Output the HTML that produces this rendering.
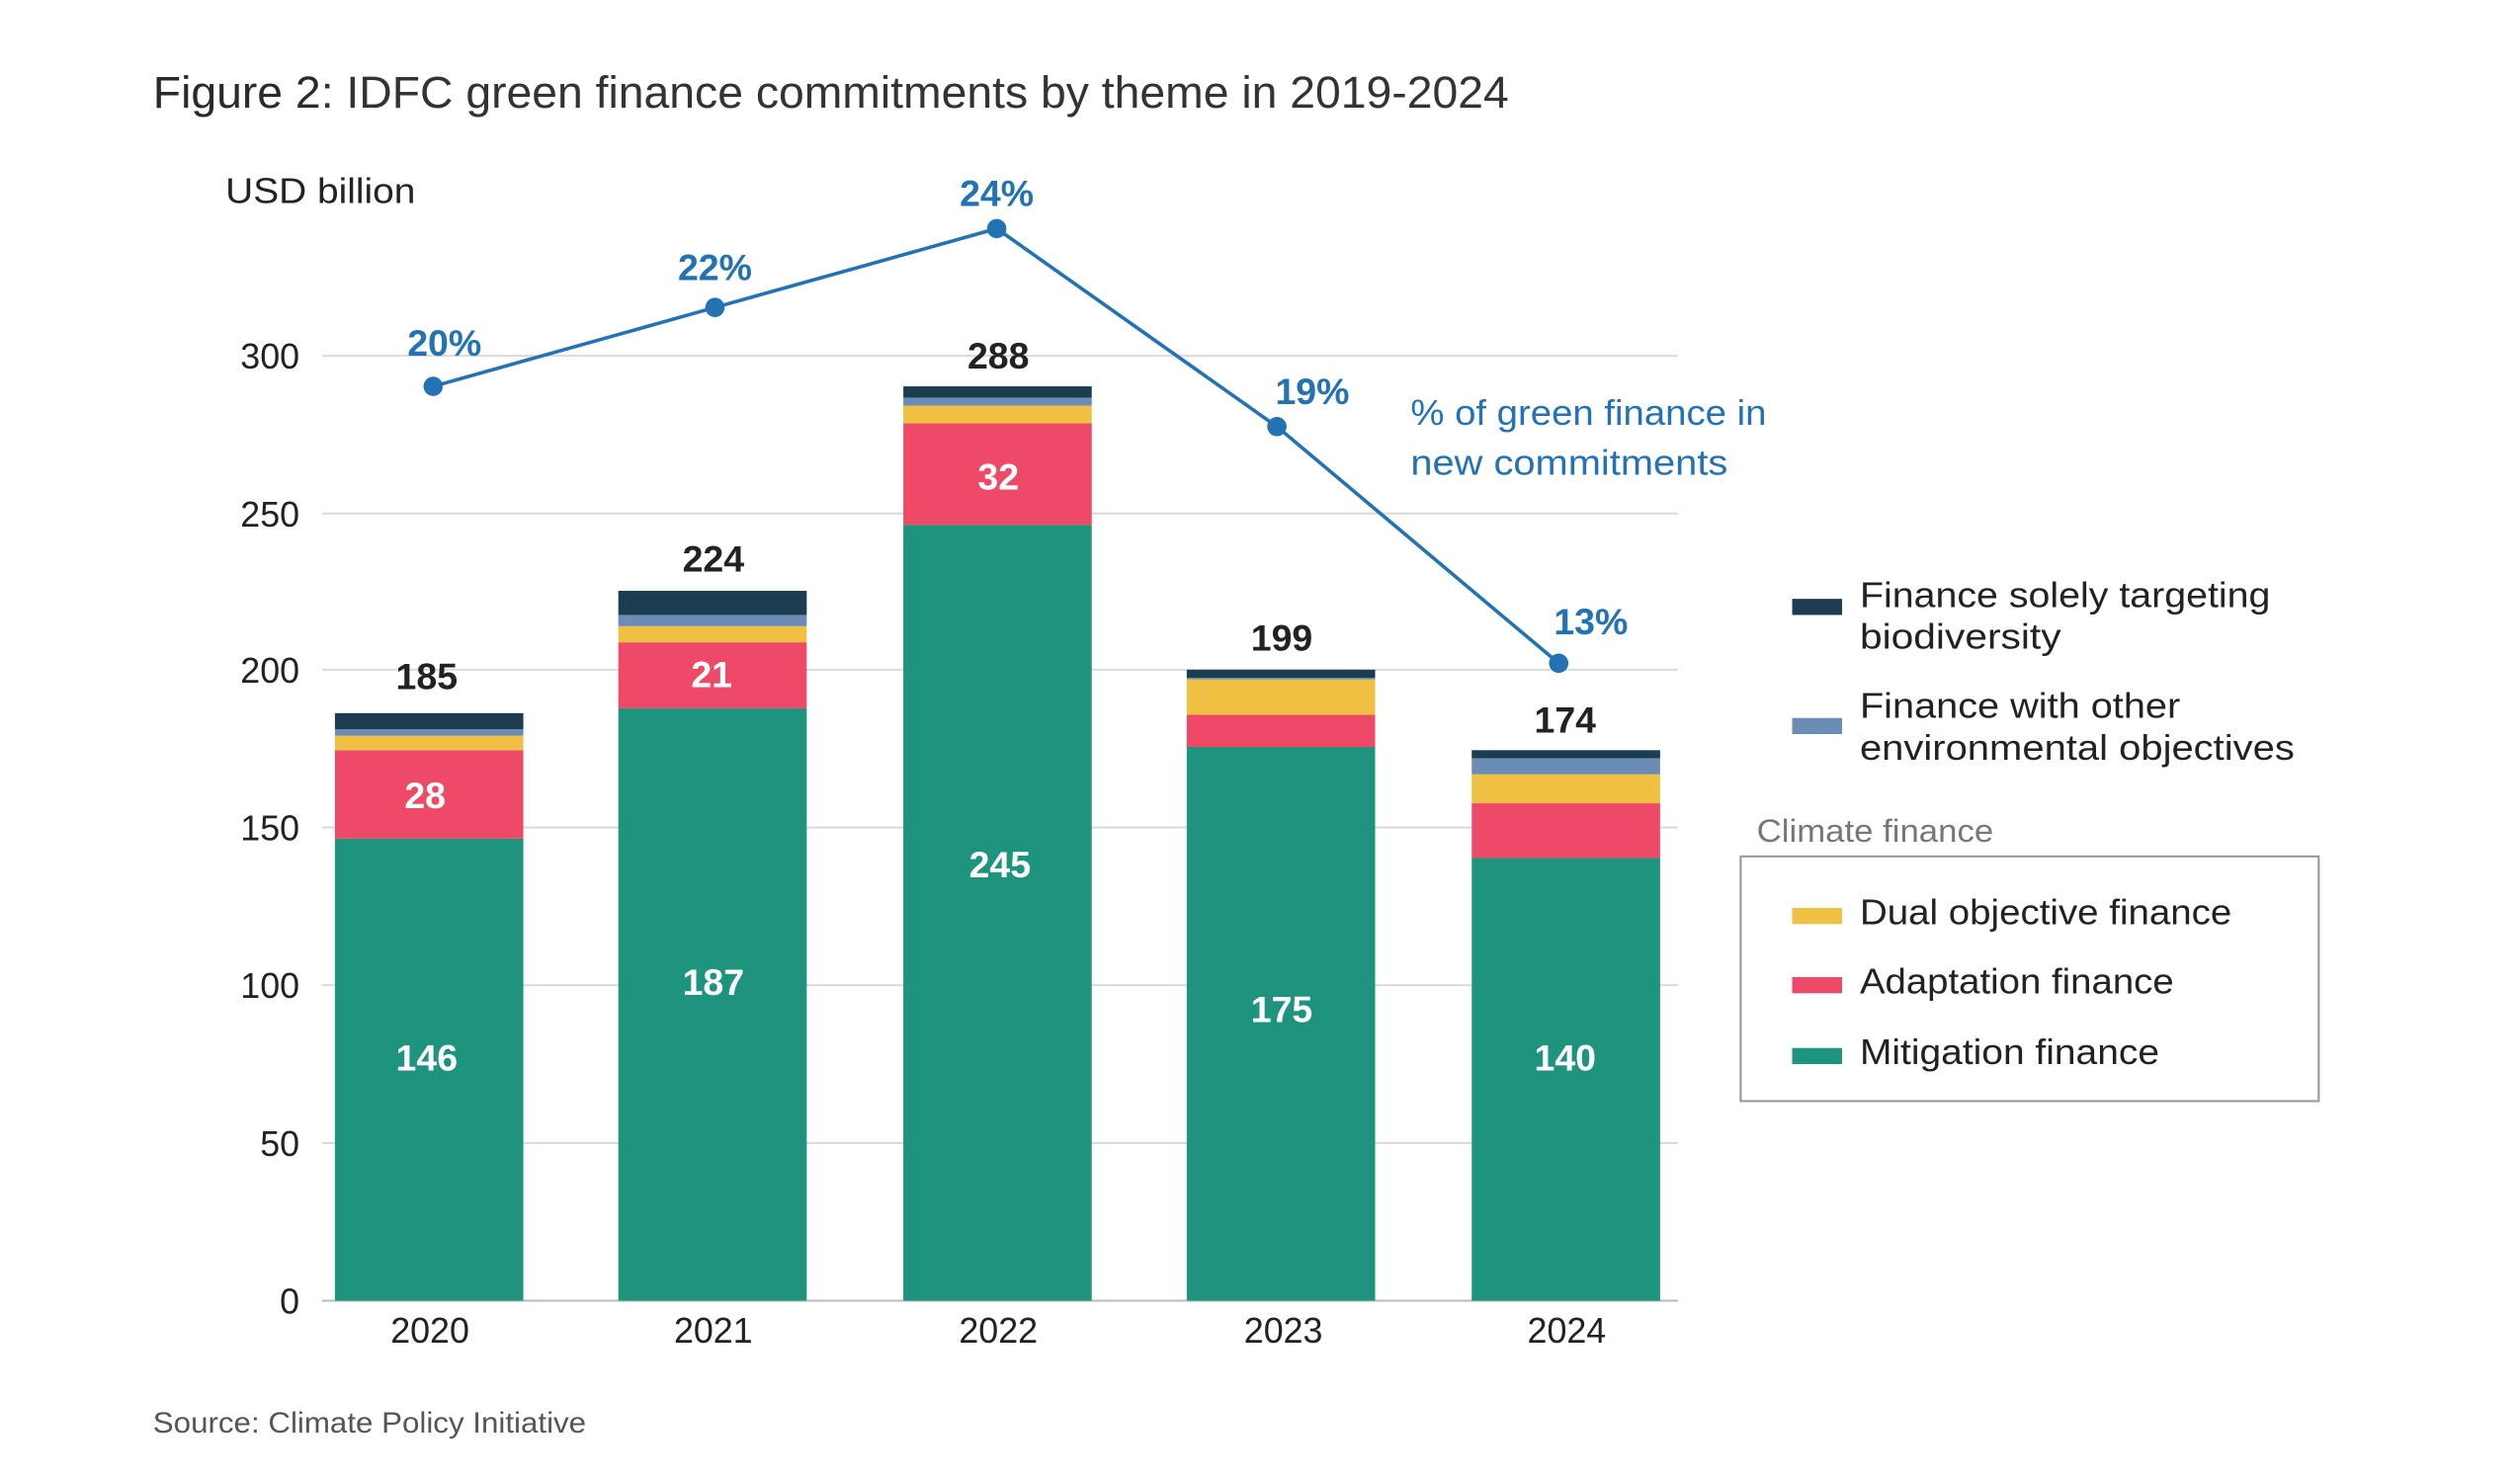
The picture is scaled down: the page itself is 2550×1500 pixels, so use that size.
<!DOCTYPE html>
<html><head><meta charset="utf-8"><style>
html,body{margin:0;padding:0;background:#fff;}
svg{display:block;}
text{font-family:"Liberation Sans Narrow","Liberation Sans",sans-serif;}
</style></head><body>
<svg width="2550" height="1500" viewBox="0 0 1565 920.6" xmlns="http://www.w3.org/2000/svg">
<rect width="1565" height="921" fill="#fff"/>
<text x="95" y="67" font-size="28" fill="#333" textLength="842" lengthAdjust="spacingAndGlyphs"><tspan fill="#2a2a2a">Figure 2</tspan>: IDFC green finance commitments by theme in 2019-2024</text>
<text x="140" y="126" font-size="22" fill="#222" textLength="118" lengthAdjust="spacingAndGlyphs">USD billion</text>
<g stroke="#d9d9d9" stroke-width="1.2">
<line x1="200" x2="1042" y1="221" y2="221"/><line x1="200" x2="1042" y1="319" y2="319"/><line x1="200" x2="1042" y1="416" y2="416"/><line x1="200" x2="1042" y1="514" y2="514"/><line x1="200" x2="1042" y1="612" y2="612"/><line x1="200" x2="1042" y1="710" y2="710"/>
</g>
<line x1="200" x2="1042" y1="808" y2="808" stroke="#bbb" stroke-width="1.2"/>
<g font-size="22" fill="#222" text-anchor="end">
<text x="186" y="229">300</text><text x="186" y="327">250</text><text x="186" y="424">200</text><text x="186" y="522">150</text><text x="186" y="620">100</text><text x="186" y="718">50</text><text x="186" y="816">0</text>
</g>
<g>
<rect x="208" y="521" width="117" height="287" fill="#1e937e"/><rect x="208" y="466" width="117" height="55" fill="#ee4a68"/><rect x="208" y="457" width="117" height="9" fill="#f0c043"/><rect x="208" y="453" width="117" height="4" fill="#6b8db5"/><rect x="208" y="443" width="117" height="10" fill="#1b3d4f"/>
<rect x="384" y="440" width="117" height="368" fill="#1e937e"/><rect x="384" y="399" width="117" height="41" fill="#ee4a68"/><rect x="384" y="389" width="117" height="10" fill="#f0c043"/><rect x="384" y="382" width="117" height="7" fill="#6b8db5"/><rect x="384" y="367" width="117" height="15" fill="#1b3d4f"/>
<rect x="561" y="326" width="117" height="482" fill="#1e937e"/><rect x="561" y="263" width="117" height="63" fill="#ee4a68"/><rect x="561" y="252" width="117" height="11" fill="#f0c043"/><rect x="561" y="247" width="117" height="5" fill="#6b8db5"/><rect x="561" y="240" width="117" height="7" fill="#1b3d4f"/>
<rect x="737" y="464" width="117" height="344" fill="#1e937e"/><rect x="737" y="444" width="117" height="20" fill="#ee4a68"/><rect x="737" y="422" width="117" height="22" fill="#f0c043"/><rect x="737" y="421" width="117" height="1" fill="#6b8db5"/><rect x="737" y="416" width="117" height="5" fill="#1b3d4f"/>
<rect x="914" y="533" width="117" height="275" fill="#1e937e"/><rect x="914" y="499" width="117" height="34" fill="#ee4a68"/><rect x="914" y="481" width="117" height="18" fill="#f0c043"/><rect x="914" y="471" width="117" height="10" fill="#6b8db5"/><rect x="914" y="466" width="117" height="5" fill="#1b3d4f"/>
</g>
<g font-size="23" font-weight="bold" fill="#fff" text-anchor="middle">
<text x="264" y="502">28</text><text x="265" y="665">146</text><text x="442" y="427">21</text><text x="443" y="618">187</text><text x="620" y="304">32</text><text x="621" y="545">245</text><text x="796" y="635">175</text><text x="972" y="665">140</text>
</g>
<g font-size="23" font-weight="bold" fill="#222" text-anchor="middle">
<text x="265" y="428">185</text><text x="443" y="355">224</text><text x="620" y="229">288</text><text x="796" y="404">199</text><text x="972" y="455">174</text>
</g>
<g font-size="22" fill="#222" text-anchor="middle">
<text x="267" y="834">2020</text><text x="443" y="834">2021</text><text x="620" y="834">2022</text><text x="797" y="834">2023</text><text x="973" y="834">2024</text>
</g>
<polyline points="269,240 444,191 619,142 793,265 968,412" fill="none" stroke="#2272b4" stroke-width="2.2"/>
<g fill="#2272b4"><circle cx="269" cy="240" r="6"/><circle cx="444" cy="191" r="6"/><circle cx="619" cy="142" r="6"/><circle cx="793" cy="265" r="6"/><circle cx="968" cy="412" r="6"/></g>
<g font-size="23" font-weight="bold" fill="#2272b4" text-anchor="middle">
<text x="276" y="221">20%</text><text x="444" y="174">22%</text><text x="619" y="128">24%</text><text x="815" y="251">19%</text><text x="988" y="394">13%</text>
</g>
<g font-size="22" fill="#2272b4"><text x="876" y="264" textLength="221" lengthAdjust="spacingAndGlyphs">% of green finance in</text><text x="876" y="295" textLength="197" lengthAdjust="spacingAndGlyphs">new commitments</text></g>
<rect x="1113" y="372" width="31" height="10" fill="#1b3d4f"/>
<rect x="1113" y="446" width="31" height="10" fill="#6b8db5"/>
<g font-size="22" fill="#222" lengthAdjust="spacingAndGlyphs">
<text x="1155" y="377" textLength="255" lengthAdjust="spacingAndGlyphs">Finance solely targeting</text><text x="1155" y="403" textLength="125" lengthAdjust="spacingAndGlyphs">biodiversity</text>
<text x="1155" y="446" textLength="199" lengthAdjust="spacingAndGlyphs">Finance with other</text><text x="1155" y="472" textLength="270" lengthAdjust="spacingAndGlyphs">environmental objectives</text>
</g>
<text x="1091" y="523" font-size="20" fill="#777" textLength="147" lengthAdjust="spacingAndGlyphs">Climate finance</text>
<rect x="1081" y="532" width="359" height="152" fill="none" stroke="#999" stroke-width="1.3"/>
<rect x="1113" y="564" width="31" height="10" fill="#f0c043"/>
<rect x="1113" y="607" width="31" height="10" fill="#ee4a68"/>
<rect x="1113" y="651" width="31" height="10" fill="#1e937e"/>
<g font-size="22" fill="#222">
<text x="1155" y="574" textLength="231" lengthAdjust="spacingAndGlyphs">Dual objective finance</text><text x="1155" y="617" textLength="195" lengthAdjust="spacingAndGlyphs">Adaptation finance</text><text x="1155" y="661" textLength="186" lengthAdjust="spacingAndGlyphs">Mitigation finance</text>
</g>
<text x="95" y="890" font-size="18" fill="#555" textLength="269" lengthAdjust="spacingAndGlyphs">Source: Climate Policy Initiative</text>
</svg>
</body></html>
